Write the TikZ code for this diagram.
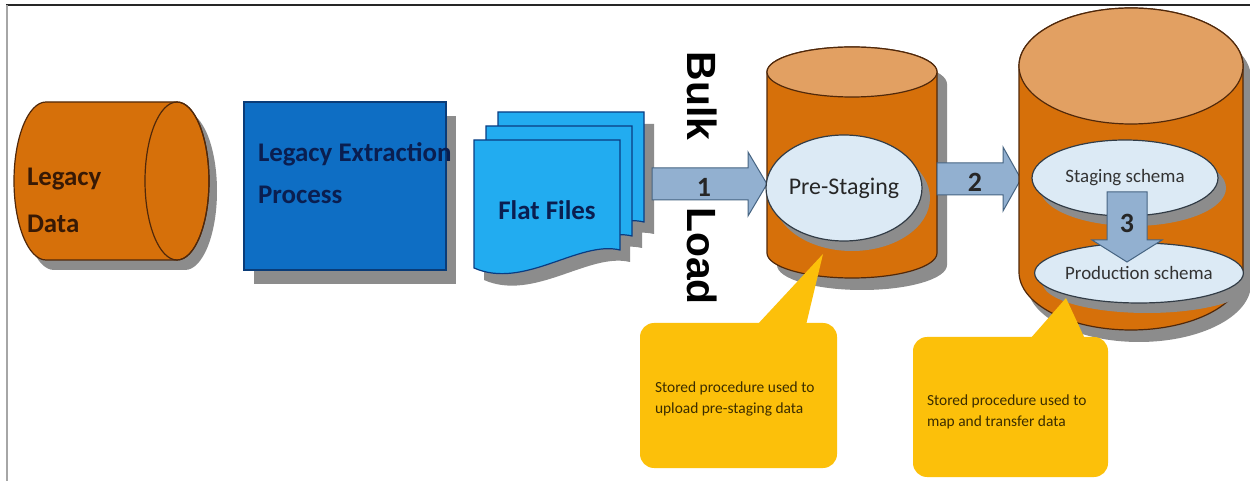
\documentclass[tikz,border=0pt]{standalone}
\usepackage{fontspec}
\setmainfont{Carlito}
\newfontfamily\arialfont{Liberation Sans}
\usetikzlibrary{shapes.geometric,shadows}

\definecolor{orangebody}{RGB}{214,112,10}
\definecolor{orangetop}{RGB}{226,160,98}
\definecolor{brownline}{RGB}{80,40,10}
\definecolor{shadowgray}{RGB}{140,140,140}
\definecolor{procblue}{RGB}{14,110,196}
\definecolor{procline}{RGB}{10,60,120}
\definecolor{fileblue}{RGB}{34,172,240}
\definecolor{fileline}{RGB}{10,60,130}
\definecolor{arrowfill}{RGB}{146,176,208}
\definecolor{arrowline}{RGB}{70,100,130}
\definecolor{ellfill}{RGB}{220,234,245}
\definecolor{ellline}{RGB}{50,60,70}
\definecolor{callout}{RGB}{252,192,10}
\definecolor{browntext}{RGB}{55,25,5}
\definecolor{navytext}{RGB}{10,30,80}
\definecolor{calltextcol}{RGB}{60,45,0}

\newcommand\legacyshape[1]{\path[#1] (46,102) -- (177,102) arc[start angle=-90,end angle=90,x radius=32,y radius=79] -- (46,260) arc[start angle=90,end angle=270,x radius=32,y radius=79] -- cycle;}
\newcommand\vcylbody[6]{\path[#1] ({#2-#3},#4) -- ({#2-#3},#5) arc[start angle=180,end angle=0,x radius=#3,y radius=#6] -- ({#2+#3},#4) arc[start angle=0,end angle=-180,x radius=#3,y radius=#6] -- cycle;}
\newcommand\filepage[1]{\path[#1] (0,0) -- (146,0) -- (146,110) .. controls (105,100) and (50,150) .. (0,128) -- cycle;}

\begin{document}
\begin{tikzpicture}[x=1bp,y=-1bp,
  outl/.style={line width=1.2bp},
  blockarrow/.style={fill=arrowfill, draw=arrowline, line width=1bp},
  ellnode/.style={ellipse, fill=ellfill, draw=ellline, outl, inner sep=0pt,
    drop shadow={shadow xshift=8bp, shadow yshift=-10bp, fill=shadowgray, opacity=1}},
  lbl/.style={inner sep=0pt, outer sep=0pt},
  legtext/.style={lbl, font=\bfseries\fontsize{27}{47}\selectfont, text=browntext},
  proctext/.style={lbl, font=\bfseries\fontsize{27}{42}\selectfont, text=navytext},
  filetext/.style={lbl, font=\bfseries\fontsize{27}{32}\selectfont, text=navytext},
  numtext/.style={lbl, font=\bfseries\fontsize{28}{32}\selectfont, text=black!85},
  bulktext/.style={lbl, font=\arialfont\bfseries\fontsize{41}{45}\selectfont, text=black},
  calltext/.style={lbl, font=\fontsize{15.5}{20.5}\selectfont, text=calltextcol, align=left},
  calloutfill/.style={fill=callout}]
\useasboundingbox (0,0) rectangle (1250,481);
\fill[white] (0,0) rectangle (1250,481);
\draw[line width=2bp,black!85] (6,5) -- (1250,5);
\draw[line width=2.5bp,black!35] (7,5) -- (7,481);

% Legacy data cylinder
\legacyshape{fill=shadowgray, shift={(8,10)}}
\legacyshape{fill=orangebody, draw=brownline, outl}
\draw[brownline, outl] (177,181) ellipse [x radius=32, y radius=79];
\node[legtext, anchor=west, align=left] (legacy) at (27,200) {Legacy\\Data};

% Legacy extraction process
\node[rectangle, minimum width=202bp, minimum height=168bp, fill=procblue, draw=procline, outl,
  drop shadow={shadow xshift=10bp, shadow yshift=-14bp, fill=shadowgray, opacity=1}] (proc) at (345,186) {};
\node[proctext, anchor=west, align=left] (proctxt) at (258,173) {Legacy Extraction\\Process};

% Flat files
\begin{scope}[shift={(10,12)}]
  \filepage{fill=shadowgray, shift={(498,112)}}
  \filepage{fill=shadowgray, shift={(486,126)}}
  \filepage{fill=shadowgray, shift={(474,140)}}
\end{scope}
\filepage{fill=fileblue, draw=fileline, outl, shift={(498,112)}}
\filepage{fill=fileblue, draw=fileline, outl, shift={(486,126)}}
\filepage{fill=fileblue, draw=fileline, outl, shift={(474,140)}}
\node[filetext, anchor=base] (flat) at (547,220) {Flat Files};

% Arrow 1
\path[blockarrow] (652,168) -- (748,168) -- (748,152) -- (767,184) -- (748,216) -- (748,200) -- (652,200) -- cycle;
\node[numtext, anchor=base] (n1) at (704,197) {1};

% Bulk Load
\node[bulktext, rotate=-90] (bulk) at (702,96) {Bulk};
\node[bulktext, rotate=-90] (load) at (702,256) {Load};

% Pre-staging cylinder
\vcylbody{fill=shadowgray, shift={(10,12)}}{852}{85}{72}{253}{25}
\vcylbody{fill=orangebody, draw=brownline, outl}{852}{85}{72}{253}{25}
\draw[fill=orangetop, draw=brownline, outl] (852,72) ellipse [x radius=85, y radius=25];
\node[ellnode, minimum width=138bp, minimum height=106bp, font=\fontsize{24}{28}\selectfont, text=black!85] (prestaging) at (844,188) {Pre-Staging};

% Arrow 2
\path[blockarrow] (937,163) -- (1003,163) -- (1003,147) -- (1021,179) -- (1003,211) -- (1003,195) -- (937,195) -- cycle;
\node[numtext, anchor=base] (n2) at (975,192) {2};

% Big cylinder
\vcylbody{fill=shadowgray, shift={(8,12)}}{1131}{112}{66}{272}{58}
\vcylbody{fill=orangebody, draw=brownline, outl}{1131}{112}{66}{272}{58}
\draw[fill=orangetop, draw=brownline, outl] (1131,66) ellipse [x radius=112, y radius=58];
\node[ellnode, minimum width=186bp, minimum height=76bp, font=\fontsize{19}{22}\selectfont, text=black!80] (staging) at (1125,178) {Staging schema};
\node[ellnode, minimum width=188bp, minimum height=60bp, font=\fontsize{19}{22}\selectfont, text=black!80] (production) at (1139,273) {Production schema};

% Arrow 3
\path[blockarrow] (1107,192) -- (1147,192) -- (1147,240) -- (1162,240) -- (1127,262) -- (1092,240) -- (1107,240) -- cycle;
\node[numtext, anchor=base] (n3) at (1127,233) {3};

% Callouts
\fill[calloutfill, rounded corners=14bp] (640,323) rectangle (837,468);
\fill[calloutfill] (757,325) -- (823,254) -- (806,325) -- cycle;
\node[calltext, anchor=north west] (c1) at (655,382) {Stored procedure used to\\upload pre-staging data};

\fill[calloutfill, rounded corners=14bp] (913,337) rectangle (1108,477);
\fill[calloutfill] (1030,339) -- (1066,298) -- (1085,339) -- cycle;
\node[calltext, anchor=north west] (c2) at (927,395) {Stored procedure used to\\map and transfer data};
\end{tikzpicture}
\end{document}
